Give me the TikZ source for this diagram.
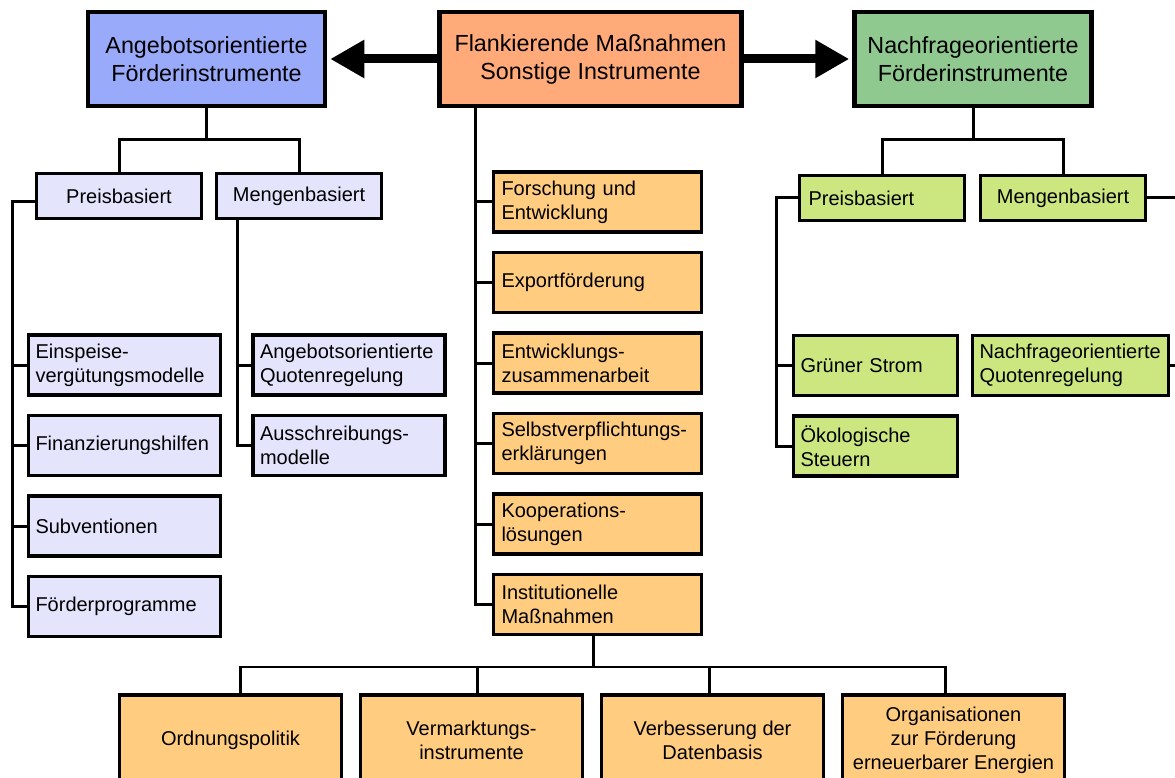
\documentclass[tikz,border=0pt]{standalone}
\usepackage{fontspec}
\setmainfont{Liberation Sans}
\usepackage{tikz}
\usetikzlibrary{arrows.meta,positioning}
\definecolor{angebotblue}{RGB}{153,170,250}
\definecolor{flanksalmon}{RGB}{255,170,120}
\definecolor{nachfragegreen}{RGB}{143,201,143}
\definecolor{lavender}{RGB}{228,228,252}
\definecolor{lightorange}{RGB}{255,204,128}
\definecolor{limegreen}{RGB}{204,230,128}
\tikzset{
    %Define standard arrow tip
    >={Triangle[length=34pt,width=36pt]},
    %Define style for boxes
    topbox/.style={
           rectangle,
           draw=black, line width=4.5pt,
           minimum width=237pt,
           minimum height=94pt,
           inner sep=0pt,
           font=\fontsize{23.3}{28}\selectfont,
           align=center},
    levelbox/.style={
           rectangle,
           draw=black, line width=3.5pt,
           minimum width=165pt,
           minimum height=45pt,
           inner sep=0pt,
           font=\fontsize{20}{24}\selectfont,
           align=center},
    itembox/.style={
           rectangle,
           draw=black, line width=3.5pt,
           minimum height=60pt,
           inner xsep=7pt, inner ysep=0pt,
           font=\fontsize{20}{24}\selectfont,
           align=left},
    bluebox/.style={itembox, fill=lavender, text width=178pt},
    orangebox/.style={itembox, fill=lightorange, inner xsep=8pt, text width=192pt},
    greenbox/.style={itembox, fill=limegreen, text width=#1},
    greenbox/.default=150pt,
    bottombox/.style={
           rectangle,
           draw=black, line width=3.5pt,
           fill=lightorange,
           minimum width=222pt,
           minimum height=90pt,
           inner sep=0pt,
           font=\fontsize{20}{24}\selectfont,
           align=center},
    % Define arrow style
    pil/.style={
           ->,
           line width=9pt,
           shorten >=3pt},
    tree/.style={line width=3pt}
}
\begin{document}
\begin{tikzpicture}[x=1pt,y=-1pt,node distance=17pt]
\useasboundingbox (0,0) rectangle (1175,778);
\fill[white] (0,0) rectangle (1175,778);
\clip (0,0) rectangle (1175,778);
 %top row
\node[topbox, fill=angebotblue] (angebot) at (206.5,59) {Angebotsorientierte\\Förderinstrumente};
\node[topbox, fill=flanksalmon, minimum width=302pt] (flank) at (590.5,59) {Flankierende Maßnahmen\\Sonstige Instrumente};
\node[topbox, fill=nachfragegreen] (nachfrage) at (973,59) {Nachfrageorientierte\\Förderinstrumente};
\draw[pil] (flank) -- (angebot);
\draw[pil] (flank) -- (nachfrage);
 %supply side
\node[levelbox, fill=lavender] (bpreis) at (119,196) {Preisbasiert};
\node[levelbox, fill=lavender, right=11.5pt of bpreis] (bmengen) {Mengenbasiert};
\node[bluebox] (einspeise) at (124.5,365) {Einspeise-\\vergütungsmodelle};
\node[bluebox, below=of einspeise] (finanz) {Finanzierungshilfen};
\node[bluebox, below=of finanz] (subvention) {Subventionen};
\node[bluebox, below=of subvention] (foerderprog) {Förderprogramme};
\node[bluebox] (aquoten) at (349,365) {Angebotsorientierte\\Quotenregelung};
\node[bluebox, below=of aquoten] (ausschreib) {Ausschreibungs-\\modelle};
 %demand side
\node[levelbox, fill=limegreen, inner xsep=9pt, text width=147pt, align=left] (gpreis) at (882,198) {Preisbasiert};
\node[levelbox, fill=limegreen, right=12.5pt of gpreis] (gmengen) {Mengenbasiert};
\node[greenbox] (gruen) at (875.5,365.5) {Grüner Strom};
\node[greenbox, below=of gruen] (oeko) {Ökologische\\Steuern};
\node[greenbox=182pt] (nquoten) at (1070.5,365.5) {Nachfrageorientierte\\Quotenregelung};
 %flanking measures
\node[orangebox] (forschung) at (597.5,202) {Forschung und\\Entwicklung};
\node[orangebox, below=of forschung] (export) {Exportförderung};
\node[orangebox, below=of export] (entwicklung) {Entwicklungs-\\zusammenarbeit};
\node[orangebox, below=of entwicklung] (selbst) {Selbstverpflichtungs-\\erklärungen};
\node[orangebox, below=of selbst] (koop) {Kooperations-\\lösungen};
\node[orangebox, below=of koop] (inst) {Institutionelle\\Maßnahmen};
\node[bottombox] (ordnung) at (230.5,740) {Ordnungspolitik};
\node[bottombox, right=15.5pt of ordnung] (vermarkt) {Vermarktungs-\\instrumente};
\node[bottombox, right=15.5pt of vermarkt] (daten) {Verbesserung der\\Datenbasis};
\node[bottombox, right=15.5pt of daten] (orga) {Organisationen\\zur Förderung\\erneuerbarer Energien};
 %connectors
\coordinate (afork) at (206.5,140);
\coordinate (nfork) at (973,140);
\coordinate (ifork) at (593,667);
\coordinate (ltrunk) at (12,0);
\coordinate (mtrunk) at (237,0);
\coordinate (ftrunk) at (475,0);
\coordinate (gtrunk) at (776,0);
\coordinate (redge) at (1190,0);
\draw[tree] (angebot.south) -- (afork);
\draw[tree] (bpreis.north) |- (afork) -| (bmengen.north);
\draw[tree] ([yshift=-6pt]bpreis.west) -- ([yshift=-6pt]bpreis.west -| ltrunk) |- (foerderprog.west);
\foreach \n in {einspeise,finanz,subvention}
    \draw[tree] (ltrunk |- \n.west) -- (\n.west);
\draw[tree] (bmengen.south -| mtrunk) |- (ausschreib.west);
\draw[tree] (mtrunk |- aquoten.west) -- (aquoten.west);
\draw[tree] (nachfrage.south) -- (nfork);
\draw[tree] (gpreis.north) |- (nfork) -| (gmengen.north);
\draw[tree] (gpreis.west) -- (gpreis.west -| gtrunk) |- (oeko.west);
\draw[tree] (gtrunk |- gruen.west) -- (gruen.west);
\draw[tree] (gmengen.east) -- (gmengen.east -| redge);
\draw[tree] (nquoten.east) -- (nquoten.east -| redge);
\draw[tree] (flank.south -| ftrunk) |- (inst.west);
\foreach \n in {forschung,export,entwicklung,selbst,koop}
    \draw[tree] (ftrunk |- \n.west) -- (\n.west);
\draw[tree] (inst.south -| ifork) -- (ifork);
\draw[line width=2.5pt] ([xshift=10pt]ordnung.north) |- (ifork) -| ([xshift=-8pt]orga.north);
\draw[line width=2.5pt] ([xshift=6pt]vermarkt.north) -- ([xshift=6pt]vermarkt.north |- ifork);
\draw[line width=2.5pt] ([xshift=-3pt]daten.north) -- ([xshift=-3pt]daten.north |- ifork);
\end{tikzpicture}
\end{document}
